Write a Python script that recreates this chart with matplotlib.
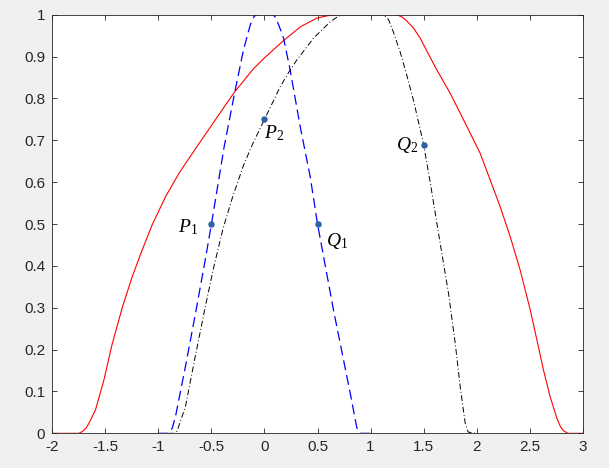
import matplotlib
matplotlib.use("Agg")
import matplotlib.pyplot as plt

plt.rcParams["axes.unicode_minus"] = False
plt.rcParams["mathtext.fontset"] = "custom"
plt.rcParams["mathtext.it"] = "Liberation Serif:italic"
plt.rcParams["mathtext.rm"] = "Liberation Serif"

# curves
red_x = [-2.0, -1.75, -1.718, -1.680, -1.655, -1.593, -1.514, -1.436, -1.341, -1.247,
         -1.153, -1.059, -0.933, -0.807, -0.650, -0.493, -0.352, -0.280, -0.104, 0.0,
         0.100, 0.179, 0.337, 0.494, 0.620, 0.720, 1.250, 1.300, 1.342, 1.405,
         1.468, 1.531, 1.625, 1.751, 1.845, 1.908, 2.033, 2.128, 2.222, 2.316,
         2.410, 2.505, 2.568, 2.630, 2.693, 2.756, 2.790, 2.819, 2.860, 3.0]
red_y = [0, 0, 0.004, 0.013, 0.024, 0.056, 0.127, 0.213, 0.300, 0.374,
         0.438, 0.498, 0.565, 0.621, 0.680, 0.738, 0.790, 0.816, 0.871, 0.897,
         0.920, 0.938, 0.971, 0.992, 0.999, 1.0, 1.0, 0.994, 0.985, 0.968,
         0.944, 0.913, 0.868, 0.812, 0.765, 0.733, 0.669, 0.605, 0.541, 0.470,
         0.390, 0.295, 0.223, 0.151, 0.087, 0.036, 0.016, 0.006, 0, 0]

blue_x = [-1.0, -0.90, -0.87, -0.839, -0.745, -0.650, -0.556, -0.500, -0.380, -0.280,
          -0.198, -0.135, -0.100, -0.078, 0.079, 0.100, 0.135, 0.179, 0.242, 0.337,
          0.431, 0.500, 0.650, 0.777, 0.808, 0.870, 0.90, 1.0]
blue_y = [0, 0, 0.012, 0.040, 0.160, 0.287, 0.418, 0.500, 0.685, 0.815,
          0.916, 0.975, 0.995, 1.0, 1.0, 0.995, 0.975, 0.945, 0.868, 0.732,
          0.613, 0.500, 0.295, 0.135, 0.096, 0.014, 0, 0]

black_x = [-0.90, -0.84, -0.823, -0.745, -0.650, -0.556, -0.480, -0.390, -0.300, -0.198,
           -0.116, 0.0, 0.148, 0.242, 0.305, 0.462, 0.619, 0.700, 0.745, 1.122,
           1.170, 1.216, 1.280, 1.342, 1.405, 1.437, 1.500, 1.562, 1.656, 1.735,
           1.798, 1.845, 1.892, 1.920, 1.990]
black_y = [0, 0, 0.006, 0.064, 0.187, 0.305, 0.395, 0.490, 0.565, 0.640,
           0.689, 0.750, 0.828, 0.868, 0.892, 0.944, 0.983, 0.997, 1.0, 1.0,
           0.988, 0.958, 0.910, 0.855, 0.795, 0.760, 0.690, 0.600, 0.454, 0.334,
           0.215, 0.111, 0.024, 0.003, 0]

pt_x = [-0.5, 0.0, 0.5, 1.5]
pt_y = [0.5, 0.75, 0.5, 0.69]
pt_labels = ["$P_1$", "$P_2$", "$Q_1$", "$Q_2$"]
# label placement: (dx, dy) in points, horizontal alignment
pt_offsets = [(-10, -6, "right"), (0, -13.5, "left"), (6, -16, "left"), (-4, -4, "right")]

fig = plt.figure(figsize=(6.09, 4.68), dpi=100, facecolor="#F0F0F0")
ax = fig.add_axes([0.0859, 0.0741, 0.871, 0.8944])
ax.set_facecolor("white")

ax.plot(red_x, red_y, color="red", lw=0.8)
ax.plot(blue_x, blue_y, color="blue", lw=0.9, dashes=(8, 4))
ax.plot(black_x, black_y, color="black", lw=0.7, dashes=(6, 2.5, 1, 2.5))
ax.plot(pt_x, pt_y, "o", color="#2F5FA5", ms=3.6, ls="none")

for x, y, s, (dx, dy, ha) in zip(pt_x, pt_y, pt_labels, pt_offsets):
    ax.annotate(s, (x, y), xytext=(dx, dy), textcoords="offset points",
                ha=ha, va="baseline", fontsize=14)

ax.set_xlim(-2, 3)
ax.set_ylim(0, 1)
xt = [-2, -1.5, -1, -0.5, 0, 0.5, 1, 1.5, 2, 2.5, 3]
yt = [0, 0.1, 0.2, 0.3, 0.4, 0.5, 0.6, 0.7, 0.8, 0.9, 1]
ax.set_xticks(xt)
ax.set_xticklabels(["%g" % v for v in xt])
ax.set_yticks(yt)
ax.set_yticklabels(["%g" % v for v in yt])
ax.tick_params(direction="in", length=3.6, width=0.6, color="#262626",
               top=True, right=True, labelsize=11, labelcolor="#262626", pad=5)
for lab in ax.get_xticklabels() + ax.get_yticklabels():
    lab.set_family("Liberation Sans")
for sp in ax.spines.values():
    sp.set_color("#262626")
    sp.set_linewidth(0.6)

fig.savefig("out.png", dpi=100, facecolor=fig.get_facecolor())
